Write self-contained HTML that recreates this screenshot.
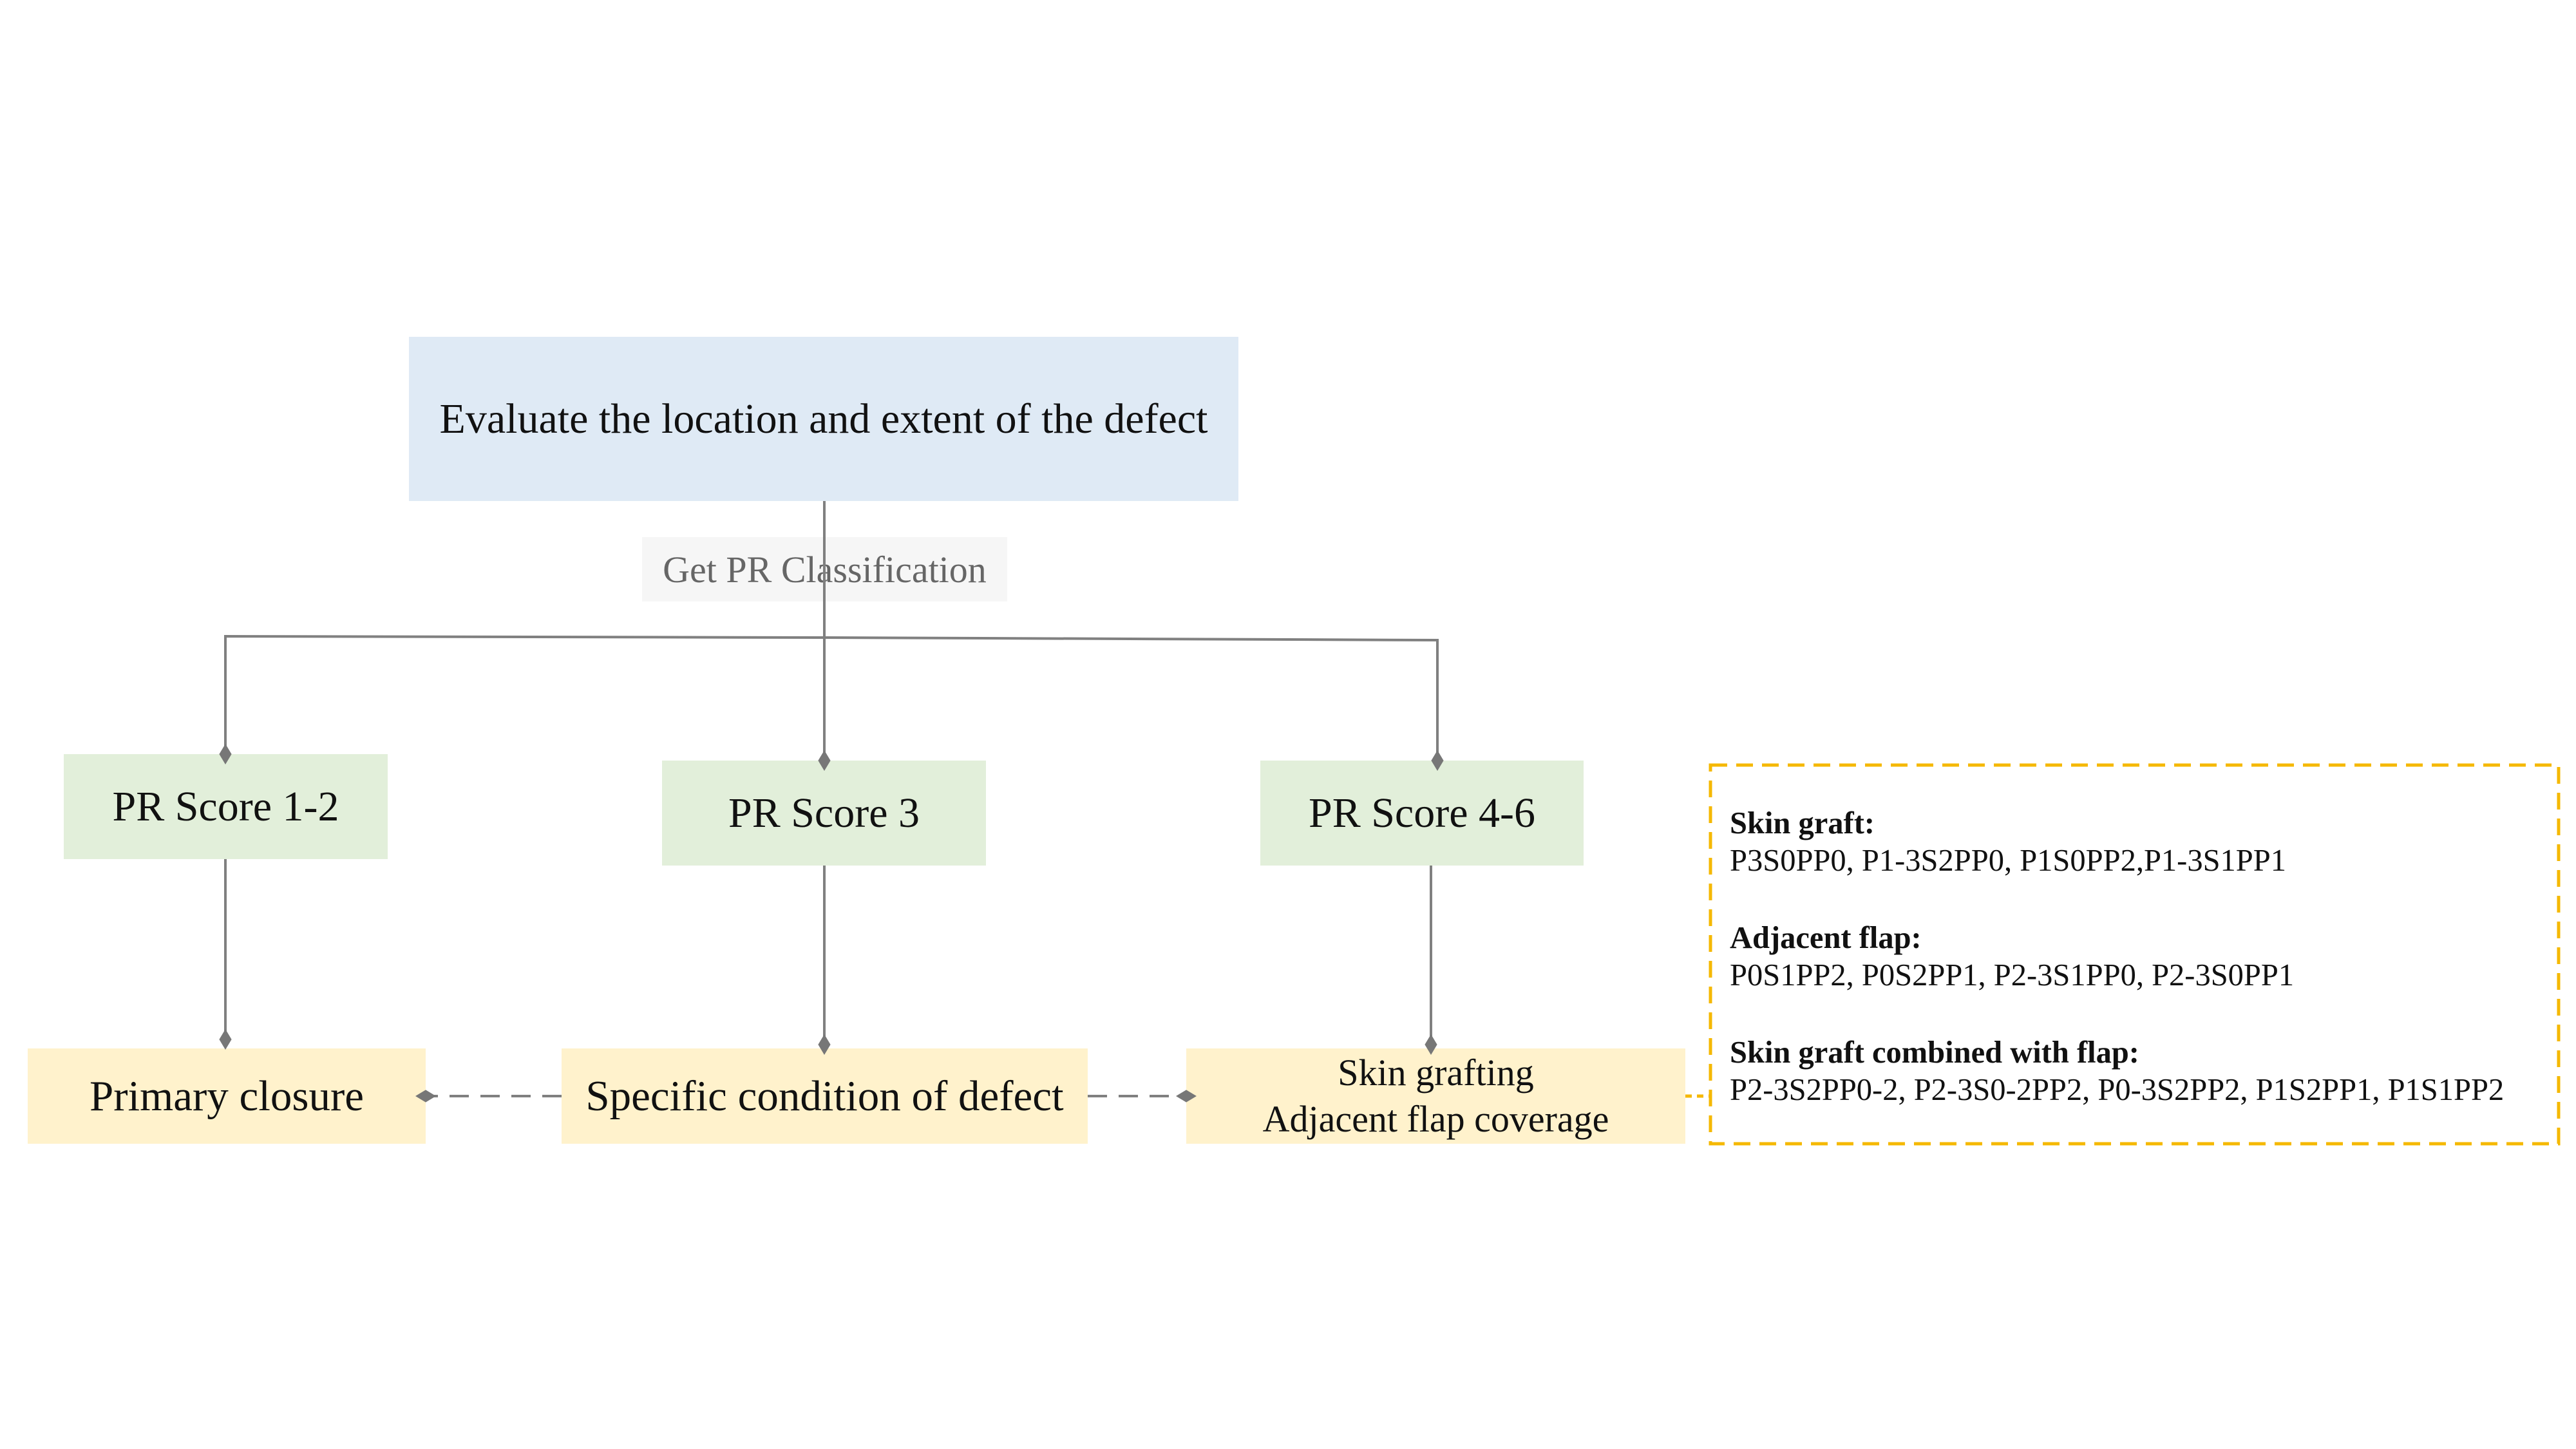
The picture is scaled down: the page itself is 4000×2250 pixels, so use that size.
<!DOCTYPE html>
<html><head><meta charset="utf-8"><style>
body{margin:0;width:4000px;height:2250px;background:#fff;position:relative;overflow:hidden;font-family:"Liberation Serif",serif;}
.b{position:absolute;display:flex;align-items:center;justify-content:center;text-align:center;color:#111;}
</style></head><body>
<div class="b" style="left:635px;top:523px;width:1288px;height:255px;background:#dfeaf5;font-size:66px">Evaluate the location and extent of the defect</div>
<div class="b" style="left:997px;top:834px;width:567px;height:100px;background:#f6f6f6;font-size:58px;color:#666">Get PR Classification</div>
<div class="b" style="left:99px;top:1171px;width:503px;height:163px;background:#e2efda;font-size:66px">PR Score 1-2</div>
<div class="b" style="left:1028px;top:1181px;width:503px;height:163px;background:#e2efda;font-size:66px">PR Score 3</div>
<div class="b" style="left:1957px;top:1181px;width:502px;height:163px;background:#e2efda;font-size:66px">PR Score 4-6</div>
<div class="b" style="left:43px;top:1628px;width:618px;height:148px;background:#fff2cc;font-size:67px">Primary closure</div>
<div class="b" style="left:872px;top:1628px;width:817px;height:148px;background:#fff2cc;font-size:67px">Specific condition of defect</div>
<div class="b" style="left:1842px;top:1628px;width:775px;height:148px;background:#fff2cc;font-size:58px;line-height:72px">Skin grafting<br>Adjacent flap coverage</div>
<div style="position:absolute;left:2686px;top:1250px;font-size:48.5px;line-height:58px;color:#111">
<b>Skin graft:</b><br>P3S0PP0, P1-3S2PP0, P1S0PP2,P1-3S1PP1<br><div style="height:62px"></div>
<b>Adjacent flap:</b><br>P0S1PP2, P0S2PP1, P2-3S1PP0, P2-3S0PP1<br><div style="height:62px"></div>
<b>Skin graft combined with flap:</b><br>P2-3S2PP0-2, P2-3S0-2PP2, P0-3S2PP2, P1S2PP1, P1S1PP2
</div>
<svg width="4000" height="2250" style="position:absolute;left:0;top:0">
<defs><marker id="d" viewBox="0 0 20 20" refX="10" refY="10" markerUnits="userSpaceOnUse" markerWidth="32" markerHeight="32" orient="auto"><path d="M0 10 L10 4 L20 10 L10 16Z" fill="#777"/></marker></defs>
<g stroke="#808080" stroke-width="4" fill="none">
<line x1="1280" y1="778" x2="1280" y2="1181" marker-end="url(#d)"/>
<polyline points="1280,990 350,988 350,1171" marker-end="url(#d)"/>
<polyline points="1280,990 2232,994 2232,1181" marker-end="url(#d)"/>
<line x1="350" y1="1334" x2="350" y2="1614" marker-end="url(#d)"/>
<line x1="1280" y1="1344" x2="1280" y2="1622" marker-end="url(#d)"/>
<line x1="2222" y1="1344" x2="2222" y2="1622" marker-end="url(#d)"/>
<line x1="872" y1="1702" x2="661" y2="1702" stroke-dasharray="30,18" marker-end="url(#d)"/>
<line x1="1689" y1="1702" x2="1842" y2="1702" stroke-dasharray="30,18" marker-end="url(#d)"/>
</g>
<line x1="2617" y1="1702" x2="2656" y2="1702" stroke="#f5b800" stroke-width="5" stroke-dasharray="10,8"/>
<rect x="2656" y="1188" width="1317" height="588" fill="none" stroke="#f5b800" stroke-width="5" stroke-dasharray="26,14"/>
</svg>
</body></html>
